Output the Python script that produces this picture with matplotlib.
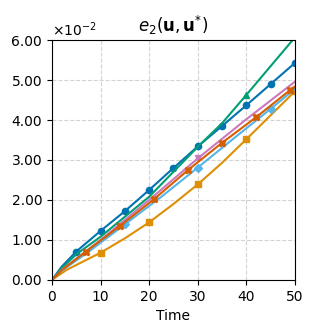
import matplotlib
matplotlib.use("Agg")
import matplotlib.pyplot as plt
from matplotlib.ticker import ScalarFormatter

# values (units of 1e-2)
t_blue = [0, 2, 5, 10, 15, 20, 25, 30, 35, 40, 45, 50]
e_blue = [0, 0.33, 0.71, 1.225, 1.72, 2.25, 2.80, 3.34, 3.85, 4.37, 4.90, 5.43]

t_orange = [0, 3, 10, 15, 20, 25, 30, 35, 40, 45, 50]
e_orange = [0, 0.25, 0.68, 1.04, 1.44, 1.90, 2.39, 2.93, 3.52, 4.12, 4.72]

t_green = [0, 2, 5, 10, 20, 30, 35, 40, 50]
e_green = [0, 0.29, 0.64, 1.08, 2.08, 3.33, 3.92, 4.63, 6.07]

t_red = [0, 2, 7, 14, 21, 28, 35, 42, 49, 50]
e_red = [0, 0.24, 0.71, 1.35, 2.02, 2.75, 3.43, 4.07, 4.75, 4.84]

t_pink = [0, 2, 10, 20, 30, 40, 50]
e_pink = [0, 0.25, 1.0, 2.0, 3.04, 4.02, 4.96]

t_light = [0, 2, 7.5, 15, 22.5, 30, 37.5, 45, 50]
e_light = [0, 0.23, 0.70, 1.39, 2.08, 2.81, 3.55, 4.28, 4.78]


class TwoDecimal(ScalarFormatter):
    def _set_format(self):
        self.format = "%1.2f"


def marks(ts, every):
    return [i for i, t in enumerate(ts) if t > 0 and t % every == 0]


fig = plt.figure(figsize=(3.13, 3.34), dpi=100)
ax = fig.add_axes([0.166, 0.162, 0.7765, 0.718])

scale = 1e-2
ax.plot(t_blue, [v * scale for v in e_blue], '-o', color='#0173b2', lw=1.5, ms=4.5,
        markevery=marks(t_blue, 5))
ax.plot(t_orange, [v * scale for v in e_orange], '-s', color='#de8f05', lw=1.5, ms=4.5,
        markevery=marks(t_orange, 10))
ax.plot(t_green, [v * scale for v in e_green], '-^', color='#029e73', lw=1.5, ms=5,
        markevery=marks(t_green, 40))
ax.plot(t_pink, [v * scale for v in e_pink], '-v', color='#cc78bc', lw=1.5, ms=5,
        markevery=marks(t_pink, 30))
ax.plot(t_light, [v * scale for v in e_light], '-D', color='#56b4e9', lw=1.5, ms=4,
        markevery=marks(t_light, 15))
ax.plot(t_red, [v * scale for v in e_red], '-X', color='#d55e00', lw=1.5, ms=5,
        markevery=marks(t_red, 7))

ax.set_xlim(0, 50)
ax.set_ylim(0, 0.06)
ax.set_xticks([0, 10, 20, 30, 40, 50])
ax.set_yticks([0, 0.01, 0.02, 0.03, 0.04, 0.05, 0.06])
fmt = TwoDecimal(useMathText=True)
fmt.set_powerlimits((0, 0))
ax.yaxis.set_major_formatter(fmt)
ax.grid(True, linestyle='--', color='#d3d3d3', lw=0.8)
ax.set_axisbelow(True)
ax.set_xlabel('Time')
ax.set_title(r'$e_2(\mathbf{u},\mathbf{u}^{*})$')

fig.savefig('out.png', dpi=100)
